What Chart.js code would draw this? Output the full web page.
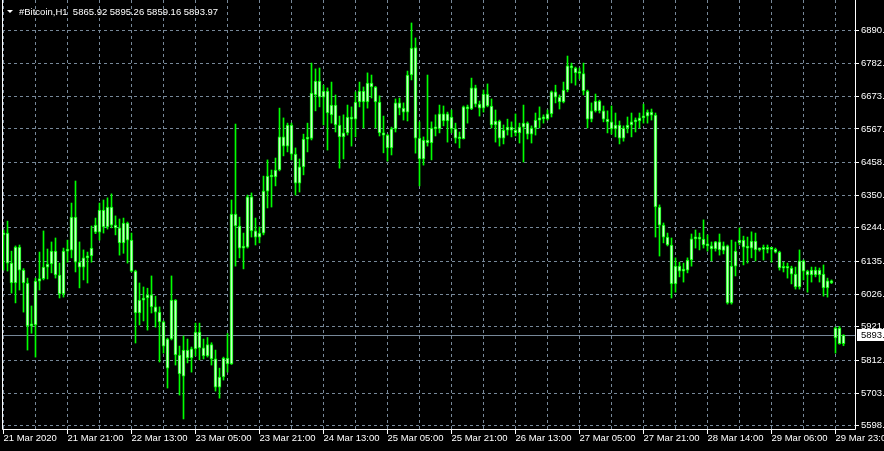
<!DOCTYPE html>
<html>
<head>
<meta charset="utf-8">
<title>#Bitcoin,H1</title>
<script src="https://cdn.jsdelivr.net/npm/chart.js@4.4.1/dist/chart.umd.min.js"></script>
<style>
  html, body { margin: 0; padding: 0; background: #000; overflow: hidden; }
  #wrap { width: 884px; height: 451px; }
</style>
</head>
<body>
<div id="wrap"><canvas id="btcChart"></canvas></div>
<script>
const symbolTitle = '#Bitcoin,H1';

// one label every 16 hourly bars
const timeLabels = ['21 Mar 2020', '21 Mar 21:00', '22 Mar 13:00', '23 Mar 05:00', '23 Mar 21:00',
  '24 Mar 13:00', '25 Mar 05:00', '25 Mar 21:00', '26 Mar 13:00', '27 Mar 05:00',
  '27 Mar 21:00', '28 Mar 14:00', '29 Mar 06:00', '29 Mar 23:00'];

const priceTicks = [6890, 6782, 6673, 6567, 6458, 6350, 6244, 6135, 6026, 5921, 5812, 5703, 5598];

const opens = [
  6221, 6227, 6129, 6064, 6181, 6106, 6064, 5924, 5927, 6070,
  6078, 6116, 6126, 6168, 6090, 6028, 6168, 6171, 6279, 6132,
  6116, 6146, 6152, 6253, 6230, 6302, 6247, 6312, 6253, 6244,
  6195, 6260, 6204, 6103, 5966, 6008, 6015, 6025, 5986, 5969,
  5937, 5786, 5881, 6008, 5829, 5760, 5845, 5819, 5849, 5904,
  5852, 5826, 5863, 5816, 5724, 5757, 5819, 5800, 6289, 6250,
  6178, 6181, 6345, 6234, 6214, 6227, 6364, 6413, 6410, 6433,
  6541, 6511, 6580, 6485, 6390, 6443, 6534, 6536, 6678, 6723,
  6671, 6691, 6613, 6645, 6580, 6541, 6554, 6606, 6599, 6655,
  6691, 6655, 6717, 6704, 6655, 6554, 6547, 6505, 6567, 6652,
  6635, 6622, 6743, 6833, 6537, 6469, 6531, 6521, 6570, 6567,
  6616, 6593, 6606, 6567, 6537, 6535, 6639, 6632, 6701, 6648,
  6635, 6681, 6642, 6580, 6593, 6537, 6563, 6573, 6563, 6554,
  6573, 6586, 6550, 6570, 6596, 6603, 6600, 6616, 6688, 6671,
  6655, 6694, 6773, 6766, 6750, 6748, 6691, 6599, 6626, 6658,
  6626, 6599, 6590, 6567, 6580, 6537, 6570, 6580, 6590, 6593,
  6603, 6609, 6622, 6612, 6312, 6253, 6214, 6188, 6061, 6119,
  6103, 6106, 6139, 6208, 6210, 6207, 6188, 6185, 6175, 6198,
  6170, 6185, 5999, 6119, 6195, 6204, 6181, 6178, 6201, 6172,
  6175, 6174, 6175, 6174, 6165, 6113, 6112, 6113, 6093, 6051,
  6136, 6103, 6090, 6106, 6090, 6093, 6048, 6071, 5885, 5917,
  5865.92
];
const highs = [
  6237, 6266, 6168, 6185, 6188, 6111, 6080, 5989, 6080, 6165,
  6234, 6175, 6198, 6211, 6129, 6178, 6204, 6325, 6397, 6198,
  6172, 6165, 6250, 6276, 6325, 6335, 6342, 6355, 6283, 6273,
  6276, 6263, 6227, 6106, 6064, 6051, 6047, 6087, 6021, 5986,
  5940, 5884, 6087, 6010, 5858, 5891, 5881, 5855, 5933, 5933,
  5881, 5886, 5869, 5845, 5786, 5822, 5899, 6335, 6583, 6279,
  6227, 6351, 6358, 6276, 6247, 6413, 6466, 6433, 6472, 6635,
  6603, 6586, 6586, 6505, 6469, 6550, 6586, 6782, 6763, 6766,
  6710, 6701, 6720, 6678, 6609, 6613, 6645, 6639, 6688, 6720,
  6704, 6750, 6743, 6706, 6675, 6609, 6550, 6573, 6665, 6668,
  6652, 6756, 6913, 6864, 6590, 6541, 6743, 6590, 6613, 6645,
  6642, 6622, 6629, 6586, 6557, 6642, 6645, 6733, 6710, 6658,
  6694, 6714, 6665, 6629, 6596, 6580, 6599, 6590, 6616, 6586,
  6645, 6590, 6577, 6619, 6639, 6613, 6629, 6691, 6710, 6678,
  6720, 6805, 6782, 6769, 6766, 6782, 6694, 6652, 6681, 6661,
  6642, 6626, 6642, 6619, 6593, 6577, 6606, 6619, 6603, 6619,
  6648, 6629, 6632, 6619, 6319, 6260, 6227, 6211, 6146, 6132,
  6129, 6146, 6224, 6237, 6227, 6270, 6221, 6198, 6200, 6224,
  6198, 6188, 6204, 6198, 6244, 6217, 6214, 6231, 6227, 6178,
  6188, 6188, 6181, 6178, 6168, 6132, 6129, 6119, 6116, 6172,
  6139, 6106, 6116, 6116, 6113, 6123, 6080, 6074, 5920, 5922,
  5895.26
];
const lows = [
  6106, 6103, 6031, 5999, 6041, 5969, 5845, 5900, 5822, 6041,
  6074, 6077, 6097, 6080, 6015, 6018, 6132, 6146, 6100, 6048,
  6074, 6064, 6132, 6225, 6204, 6227, 6240, 6244, 6221, 6155,
  6161, 6129, 6100, 5868, 5927, 5940, 5910, 5966, 5920, 5806,
  5835, 5721, 5878, 5796, 5698, 5620, 5803, 5773, 5826, 5813,
  5816, 5822, 5796, 5711, 5688, 5747, 5773, 5798, 6119, 6146,
  6110, 6178, 6214, 6188, 6195, 6221, 6309, 6312, 6381, 6430,
  6479, 6492, 6466, 6351, 6361, 6417, 6492, 6531, 6626, 6639,
  6580, 6498, 6586, 6557, 6439, 6469, 6547, 6511, 6541, 6639,
  6570, 6635, 6668, 6570, 6544, 6489, 6462, 6482, 6557, 6613,
  6596, 6593, 6727, 6488, 6381, 6449, 6511, 6466, 6544, 6554,
  6577, 6524, 6554, 6521, 6505, 6534, 6586, 6630, 6639, 6609,
  6622, 6639, 6570, 6524, 6511, 6518, 6547, 6541, 6544, 6521,
  6459, 6534, 6521, 6547, 6570, 6586, 6596, 6606, 6652, 6632,
  6652, 6688, 6717, 6710, 6730, 6678, 6570, 6590, 6622, 6619,
  6590, 6554, 6550, 6541, 6518, 6527, 6554, 6541, 6557, 6570,
  6586, 6586, 6596, 6214, 6152, 6195, 6185, 6015, 6034, 6084,
  6067, 6097, 6119, 6178, 6172, 6178, 6168, 6136, 6168, 6155,
  6159, 5995, 5995, 6087, 6188, 6123, 6129, 6146, 6136, 6168,
  6139, 6162, 6132, 6162, 6106, 6100, 6080, 6061, 6044, 6044,
  6074, 6034, 6067, 6084, 6067, 6021, 6018, 6062, 5835, 5864,
  5859.16
];
const closes = [
  6227, 6129, 6064, 6181, 6106, 6064, 5924, 5927, 6070, 6078,
  6116, 6126, 6168, 6090, 6028, 6168, 6171, 6279, 6132, 6116,
  6146, 6152, 6178, 6230, 6302, 6247, 6312, 6253, 6244, 6195,
  6260, 6204, 6103, 5966, 6008, 6015, 6025, 5986, 5969, 5937,
  5858, 5881, 6008, 5829, 5767, 5845, 5819, 5849, 5904, 5852,
  5826, 5863, 5816, 5724, 5757, 5819, 5800, 6289, 6250, 6178,
  6181, 6345, 6234, 6214, 6227, 6364, 6413, 6410, 6433, 6541,
  6511, 6580, 6485, 6390, 6443, 6534, 6536, 6684, 6723, 6671,
  6691, 6619, 6645, 6580, 6541, 6554, 6606, 6599, 6655, 6691,
  6655, 6717, 6704, 6655, 6554, 6547, 6505, 6567, 6652, 6635,
  6622, 6743, 6831, 6537, 6469, 6531, 6521, 6570, 6567, 6616,
  6593, 6616, 6567, 6537, 6535, 6639, 6632, 6701, 6648, 6635,
  6681, 6642, 6580, 6593, 6537, 6563, 6573, 6563, 6554, 6573,
  6586, 6550, 6570, 6596, 6603, 6600, 6616, 6688, 6671, 6655,
  6694, 6773, 6766, 6750, 6748, 6691, 6599, 6626, 6658, 6626,
  6599, 6590, 6567, 6580, 6537, 6570, 6580, 6590, 6593, 6603,
  6609, 6622, 6612, 6312, 6253, 6214, 6188, 6061, 6119, 6103,
  6106, 6139, 6208, 6210, 6207, 6188, 6185, 6175, 6198, 6172,
  6185, 5999, 6119, 6168, 6204, 6181, 6178, 6201, 6172, 6175,
  6174, 6175, 6174, 6165, 6113, 6112, 6113, 6093, 6051, 6136,
  6103, 6090, 6106, 6090, 6106, 6048, 6071, 6064, 5917, 5866,
  5893.97
];

const candleGreen = '#00ff00';
const gridColor = 'rgb(119,136,153)';
const axisFont = { family: 'Liberation Sans, Arial, sans-serif', size: 9.5 };
const last = closes.length - 1;

const wicks = lows.map((l, i) => ({ x: i, y: [l, highs[i]] }));
const bodies = opens.map((o, i) => ({ x: i, y: [o, closes[i]] }));

const mt4Plugin = {
  id: 'mt4',
  beforeDraw(chart) {
    const c = chart.ctx;
    c.save();
    c.fillStyle = '#000';
    c.fillRect(0, 0, chart.width, chart.height);
    c.restore();
  },
  beforeDatasetsDraw(chart) {
    const c = chart.ctx, a = chart.chartArea;
    const y = Math.round(chart.scales.y.getPixelForValue(closes[last])) + 0.5;
    c.save();
    c.strokeStyle = gridColor;
    c.lineWidth = 1;
    c.beginPath();
    c.moveTo(a.left, y);
    c.lineTo(a.right, y);
    c.stroke();
    c.restore();
  },
  afterDraw(chart) {
    const c = chart.ctx, a = chart.chartArea;
    c.save();
    // frame
    c.strokeStyle = '#fff';
    c.lineWidth = 1;
    c.beginPath();
    c.moveTo(a.left + 0.5, 0);
    c.lineTo(a.left + 0.5, a.bottom - 0.5);
    c.lineTo(a.right - 0.5, a.bottom - 0.5);
    c.lineTo(a.right - 0.5, 0);
    c.stroke();

    // current price label
    const y = Math.round(chart.scales.y.getPixelForValue(closes[last]));
    c.fillStyle = '#fff';
    c.fillRect(a.right + 1, y - 6, chart.width - a.right - 1, 12);
    c.fillStyle = '#000';
    c.font = '9.5px ' + axisFont.family;
    c.textBaseline = 'middle';
    c.fillText(Math.floor(closes[last]) + '.', a.right + 5, y + 0.5);

    // title
    c.fillStyle = '#fff';
    c.beginPath();
    c.moveTo(7, 10);
    c.lineTo(13, 10);
    c.lineTo(10, 13);
    c.closePath();
    c.fill();
    c.textBaseline = 'alphabetic';
    const ohlc = [opens[last], highs[last], lows[last], closes[last]].map(v => v.toFixed(2)).join(' ');
    c.fillText(symbolTitle + '  ' + ohlc, 19, 14.5);
    c.restore();
  }
};

new Chart(document.getElementById('btcChart'), {
  type: 'bar',
  data: {
    datasets: [
      {
        label: 'wick',
        data: wicks,
        backgroundColor: candleGreen,
        barThickness: 1,
        grouped: false,
        order: 2
      },
      {
        label: 'body',
        data: bodies,
        backgroundColor: '#c8ffc8',
        borderColor: candleGreen,
        borderWidth: 1,
        borderSkipped: false,
        barThickness: 3,
        minBarLength: 2,
        grouped: false,
        order: 1
      }
    ]
  },
  options: {
    responsive: true,
    maintainAspectRatio: false,
    animation: false,
    layout: { padding: { left: 2, right: 0, top: 0, bottom: 0 } },
    plugins: { legend: { display: false }, tooltip: { enabled: false } },
    scales: {
      x: {
        type: 'linear',
        offset: false,
        min: -0.375,
        max: 213.125,
        afterBuildTicks(s) {
          s.ticks = [];
          for (let v = 0; v <= 208; v += 8) s.ticks.push({ value: v });
        },
        afterFit(s) {
          s.height = 21;
          s.paddingLeft = 0;
          s.paddingRight = 0;
        },
        grid: {
          offset: false,
          color: gridColor,
          lineWidth: 1,
          tickLength: 4,
          tickColor: ctx => (ctx.tick && ctx.tick.value % 16 === 0) ? '#fff' : 'rgba(0,0,0,0)',
          tickBorderDash: []
        },
        border: { display: false, dash: [3, 3] },
        ticks: {
          color: '#fff',
          font: axisFont,
          align: 'start',
          padding: -1,
          autoSkip: false,
          maxRotation: 0,
          callback: v => (v % 16 === 0 ? timeLabels[v / 16] : '')
        }
      },
      y: {
        position: 'right',
        min: 5584,
        max: 6988,
        afterBuildTicks(s) {
          s.ticks = priceTicks.map(v => ({ value: v }));
        },
        afterFit(s) {
          s.width = 28;
          s.paddingTop = 0;
          s.paddingBottom = 0;
        },
        grid: {
          color: gridColor,
          lineWidth: 1,
          tickLength: 3,
          tickColor: '#fff',
          tickBorderDash: []
        },
        border: { display: false, dash: [3, 3] },
        ticks: {
          color: '#fff',
          font: axisFont,
          padding: 2,
          callback: v => v + '.'
        }
      }
    }
  },
  plugins: [mt4Plugin]
});
</script>
</body>
</html>
